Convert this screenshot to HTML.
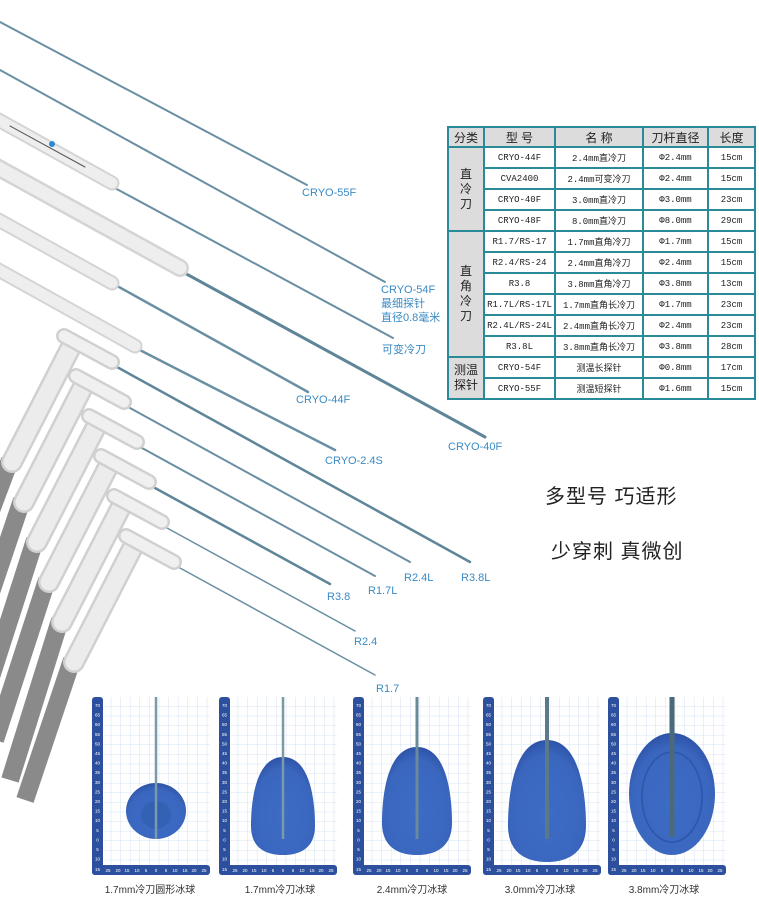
<!DOCTYPE html>
<html><head><meta charset="utf-8">
<style>
html,body{margin:0;padding:0;background:#fff;}
body{width:759px;height:898px;position:relative;overflow:hidden;font-family:"Liberation Sans","Noto Sans CJK SC",sans-serif;}
svg{position:absolute;left:0;top:0;}
table{position:absolute;left:447px;top:126px;border-collapse:collapse;font-family:"Liberation Mono","Noto Sans CJK SC",monospace;font-size:9px;color:#222;}
td{border:2px solid #2a8a9a;height:19px;padding:0;text-align:center;background:#fff;white-space:nowrap;}
td.g{background:#dcdcdc;font-family:"Liberation Sans","Noto Sans CJK SC",sans-serif;font-size:12px;line-height:15px;}
tr.h td{background:#dcdcdc;font-family:"Liberation Sans","Noto Sans CJK SC",sans-serif;font-size:12px;height:18px;}
.big{position:absolute;font-family:"Liberation Sans","Noto Sans CJK SC",sans-serif;font-size:20px;color:#222;letter-spacing:1px;}
</style></head><body>
<svg width="759" height="898" viewBox="0 0 759 898" font-family="Liberation Sans, Noto Sans CJK SC, sans-serif">
<g stroke-linecap="round" fill="none">
 <line x1="0" y1="22" x2="307" y2="185" stroke="#6a8fa3" stroke-width="2"/>
 <line x1="0" y1="70" x2="385" y2="282" stroke="#6a8fa3" stroke-width="2"/>
 <line x1="100" y1="180" x2="393" y2="338" stroke="#6a8fa3" stroke-width="2"/>
 <line x1="170" y1="265" x2="485" y2="437" stroke="#5f8599" stroke-width="3"/>
 <line x1="110" y1="282" x2="308" y2="392" stroke="#6a8fa3" stroke-width="2.5"/>
 <line x1="130" y1="345" x2="335" y2="450" stroke="#6a8fa3" stroke-width="2.5"/>
 <line x1="-5" y1="118" x2="112" y2="183" stroke="#d4d4d4" stroke-width="15"/>
 <line x1="-5" y1="118" x2="112" y2="183" stroke="#eeeeee" stroke-width="11"/>
 <line x1="-5" y1="166" x2="180" y2="268" stroke="#d4d4d4" stroke-width="18"/>
 <line x1="-5" y1="166" x2="180" y2="268" stroke="#eeeeee" stroke-width="13"/>
 <line x1="-5" y1="218" x2="112" y2="283" stroke="#d4d4d4" stroke-width="15"/>
 <line x1="-5" y1="218" x2="112" y2="283" stroke="#eeeeee" stroke-width="11"/>
 <line x1="-5" y1="268" x2="135" y2="346" stroke="#d4d4d4" stroke-width="15"/>
 <line x1="-5" y1="268" x2="135" y2="346" stroke="#eeeeee" stroke-width="11"/>
 <line x1="10" y1="126" x2="85" y2="167" stroke="#555" stroke-width="1"/>
 <circle cx="52" cy="144" r="3" fill="#2a8ad0"/>
 <line x1="117" y1="367" x2="470" y2="562" stroke="#5f8599" stroke-width="2.5"/>
 <line x1="130" y1="408" x2="410" y2="562" stroke="#6a8fa3" stroke-width="2"/>
 <line x1="142" y1="448" x2="375" y2="576" stroke="#6a8fa3" stroke-width="2"/>
 <line x1="155" y1="488" x2="330" y2="584" stroke="#5f8599" stroke-width="2.5"/>
 <line x1="167" y1="528" x2="355" y2="631" stroke="#6a8fa3" stroke-width="1.5"/>
 <line x1="180" y1="568" x2="375" y2="675" stroke="#6a8fa3" stroke-width="1.5"/>
</g>
<g stroke-linecap="butt" fill="none">
 <line x1="10" y1="460" x2="-20" y2="540" stroke="#8a8a8a" stroke-width="18"/>
 <line x1="22" y1="500" x2="-15" y2="610" stroke="#8a8a8a" stroke-width="18"/>
 <line x1="35" y1="540" x2="-10" y2="680" stroke="#8a8a8a" stroke-width="18"/>
 <line x1="47" y1="580" x2="-5" y2="740" stroke="#8a8a8a" stroke-width="18"/>
 <line x1="60" y1="620" x2="10" y2="780" stroke="#8a8a8a" stroke-width="18"/>
 <line x1="72" y1="660" x2="25" y2="800" stroke="#8a8a8a" stroke-width="18"/>
</g>
<g stroke-linecap="round" fill="none">
 <g id="rp">
  <line x1="72" y1="345" x2="12" y2="462" stroke="#d0d0d0" stroke-width="22"/>
  <line x1="72" y1="345" x2="12" y2="462" stroke="#ececec" stroke-width="17"/>
  <line x1="64" y1="336" x2="112" y2="362" stroke="#d0d0d0" stroke-width="16"/>
  <line x1="64" y1="336" x2="112" y2="362" stroke="#f0f0f0" stroke-width="11"/>
 </g>
 <use href="#rp" transform="translate(12,40)"/>
 <use href="#rp" transform="translate(25,80)"/>
 <use href="#rp" transform="translate(37,120)"/>
 <use href="#rp" transform="translate(50,160)"/>
 <use href="#rp" transform="translate(62,200)"/>
</g>
<g fill="#3a8ac4" font-size="11">
 <text x="302" y="196">CRYO-55F</text>
 <text x="381" y="293">CRYO-54F</text>
 <text x="381" y="307">最细探针</text>
 <text x="381" y="321">直径0.8毫米</text>
 <text x="382" y="353">可变冷刀</text>
 <text x="296" y="403">CRYO-44F</text>
 <text x="448" y="450">CRYO-40F</text>
 <text x="325" y="464">CRYO-2.4S</text>
 <text x="461" y="581">R3.8L</text>
 <text x="404" y="581">R2.4L</text>
 <text x="368" y="594">R1.7L</text>
 <text x="327" y="600">R3.8</text>
 <text x="354" y="645">R2.4</text>
 <text x="376" y="692">R1.7</text>
</g>
<defs>
 <pattern id="grid" width="9.6" height="9.6" patternUnits="userSpaceOnUse" x="0" y="0">
  <path d="M9.6 0V9.6H0" fill="none" stroke="#c8dcef" stroke-width="0.8"/>
 </pattern>
 <g id="panel">
  <rect x="12" y="0" width="106" height="168" fill="url(#grid)"/>
  <rect x="0" y="0" width="11" height="178" rx="3" fill="#2c4f9e"/>
  <rect x="0" y="168" width="118" height="10" rx="3" fill="#2c4f9e"/>
  <g fill="#fff" font-size="4.5" text-anchor="middle">
   <text x="5.5" y="10">70</text><text x="5.5" y="19.6">65</text><text x="5.5" y="29.2">60</text><text x="5.5" y="38.8">55</text><text x="5.5" y="48.4">50</text><text x="5.5" y="58">45</text><text x="5.5" y="67.6">40</text><text x="5.5" y="77.2">35</text><text x="5.5" y="86.8">30</text><text x="5.5" y="96.4">25</text><text x="5.5" y="106">20</text><text x="5.5" y="115.6">15</text><text x="5.5" y="125.2">10</text><text x="5.5" y="134.8">5</text><text x="5.5" y="144.4">0</text><text x="5.5" y="154">5</text><text x="5.5" y="163.6">10</text><text x="5.5" y="174">15</text>
   <text x="16" y="175">25</text><text x="26" y="175">20</text><text x="35" y="175">15</text><text x="45" y="175">10</text><text x="54" y="175">5</text><text x="64" y="175">0</text><text x="74" y="175">5</text><text x="83" y="175">10</text><text x="93" y="175">15</text><text x="102" y="175">20</text><text x="112" y="175">25</text>
  </g>
 </g>
 <radialGradient id="ice" cx="0.5" cy="0.6" r="0.6">
  <stop offset="0" stop-color="#3d6cc4"/><stop offset="0.8" stop-color="#3a66be"/><stop offset="1" stop-color="#2d53a8"/>
 </radialGradient>
</defs>
<g transform="translate(92,697)">
 <use href="#panel"/>
 <ellipse cx="64" cy="114" rx="30" ry="28" fill="url(#ice)"/>
 <ellipse cx="64" cy="118" rx="15" ry="14" fill="#3361b4"/>
 <line x1="64" y1="0" x2="64" y2="142" stroke="#7a9aaa" stroke-width="2.5"/>
</g>
<g transform="translate(219,697)">
 <use href="#panel"/>
 <path d="M64,60 C92.8,60 96,109 96,128.6 C96,152 80,158 64,158 C48,158 32,152 32,128.6 C32,109 35.2,60 64,60Z" fill="url(#ice)"/>
 <line x1="64" y1="0" x2="64" y2="142" stroke="#7a9aaa" stroke-width="2.5"/>
</g>
<g transform="translate(353,697)">
 <use href="#panel"/>
 <path d="M64,50 C95.5,50 99,104 99,125.6 C99,151 81.5,158 64,158 C46.5,158 29,151 29,125.6 C29,104 32.5,50 64,50Z" fill="url(#ice)"/>
 <line x1="64" y1="0" x2="64" y2="142" stroke="#6a8a9a" stroke-width="3"/>
</g>
<g transform="translate(483,697)">
 <use href="#panel"/>
 <path d="M64,43 C99,43 103,104 103,128.4 C103,157 83.5,165 64,165 C44.5,165 25,157 25,128.4 C25,104 29,43 64,43Z" fill="url(#ice)"/>
 <line x1="64" y1="0" x2="64" y2="142" stroke="#5a7a8a" stroke-width="4"/>
</g>
<g transform="translate(608,697)">
 <use href="#panel"/>
 <ellipse cx="64" cy="97" rx="43" ry="61" fill="url(#ice)"/>
 <ellipse cx="64" cy="100" rx="30" ry="45" fill="none" stroke="#2d55a8" stroke-width="1.5"/>
 <line x1="64" y1="0" x2="64" y2="140" stroke="#4a6a7a" stroke-width="5"/>
</g>
<g fill="#333" font-size="10" text-anchor="middle">
 <text x="150" y="893">1.7mm冷刀圆形冰球</text>
 <text x="280" y="893">1.7mm冷刀冰球</text>
 <text x="412" y="893">2.4mm冷刀冰球</text>
 <text x="540" y="893">3.0mm冷刀冰球</text>
 <text x="664" y="893">3.8mm冷刀冰球</text>
</g>
</svg>
<div class="big" style="left:545px;top:480px;">多型号 巧适形</div>
<div class="big" style="left:551px;top:535px;">少穿刺 真微创</div>
<table>
<colgroup><col style="width:36px"><col style="width:71px"><col style="width:88px"><col style="width:65px"><col style="width:47px"></colgroup>
<tr class="h"><td>分类</td><td>型 号</td><td>名 称</td><td>刀杆直径</td><td>长度</td></tr>
<tr><td class="g" rowspan="4">直<br>冷<br>刀</td><td>CRYO-44F</td><td>2.4mm直冷刀</td><td>Φ2.4mm</td><td>15cm</td></tr>
<tr><td>CVA2400</td><td>2.4mm可变冷刀</td><td>Φ2.4mm</td><td>15cm</td></tr>
<tr><td>CRYO-40F</td><td>3.0mm直冷刀</td><td>Φ3.0mm</td><td>23cm</td></tr>
<tr><td>CRYO-48F</td><td>8.0mm直冷刀</td><td>Φ8.0mm</td><td>29cm</td></tr>
<tr><td class="g" rowspan="6">直<br>角<br>冷<br>刀</td><td>R1.7/RS-17</td><td>1.7mm直角冷刀</td><td>Φ1.7mm</td><td>15cm</td></tr>
<tr><td>R2.4/RS-24</td><td>2.4mm直角冷刀</td><td>Φ2.4mm</td><td>15cm</td></tr>
<tr><td>R3.8</td><td>3.8mm直角冷刀</td><td>Φ3.8mm</td><td>13cm</td></tr>
<tr><td>R1.7L/RS-17L</td><td>1.7mm直角长冷刀</td><td>Φ1.7mm</td><td>23cm</td></tr>
<tr><td>R2.4L/RS-24L</td><td>2.4mm直角长冷刀</td><td>Φ2.4mm</td><td>23cm</td></tr>
<tr><td>R3.8L</td><td>3.8mm直角长冷刀</td><td>Φ3.8mm</td><td>28cm</td></tr>
<tr><td class="g" rowspan="2">测温<br>探针</td><td>CRYO-54F</td><td>测温长探针</td><td>Φ0.8mm</td><td>17cm</td></tr>
<tr><td>CRYO-55F</td><td>测温短探针</td><td>Φ1.6mm</td><td>15cm</td></tr>
</table>
</body></html>
